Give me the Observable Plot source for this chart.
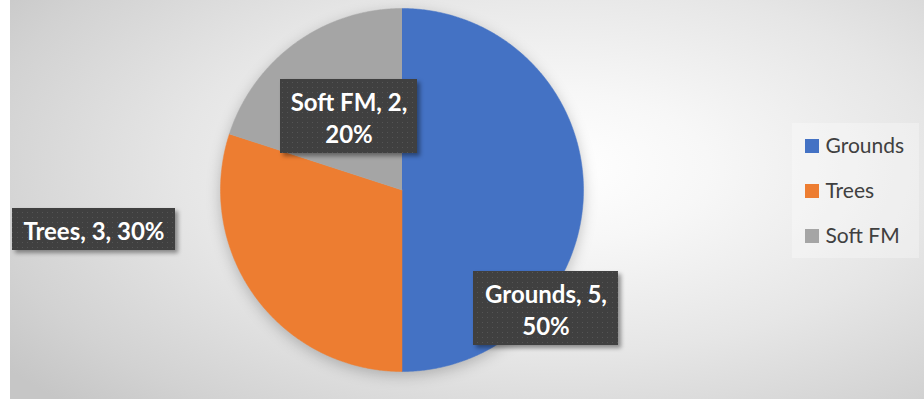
<!DOCTYPE html>
<html><head><meta charset="utf-8">
<script src="https://cdn.jsdelivr.net/npm/d3@7"></script>
<script src="https://cdn.jsdelivr.net/npm/@observablehq/plot@0.6"></script>
<style>
body{margin:0;background:#fff;}
#wrap{position:relative;width:924px;height:399px;overflow:hidden;}
#bg{position:absolute;left:10px;top:0;right:0;bottom:0;
 background:radial-gradient(ellipse 75% 85% at 60% 42%, #ffffff 0%, #f7f7f7 22%, #e6e6e6 55%, #d2d2d2 85%, #c6c6c6 100%);}
#wrap svg{position:absolute;left:0;top:0;}
</style></head><body>
<div id="wrap"><div id="bg"></div></div>
<script>
// ---- data ----
const categories = ["Grounds", "Trees", "Soft FM"];
const values = [5, 3, 2];
const colors = ["#4472C4", "#ED7D31", "#A5A5A5"];

// ---- layout (pixels) ----
const W = 924, H = 399;
const CX = 401.5, CY = 189.5, R = 181.5;
const ux = px => (px - CX) / R;
const uy = py => (CY - py) / R;
const labelLayout = [
  {cx: 545.5, cy: 308, w: 145, h: 74, wrap: true},
  {cx: 93.5, cy: 229, w: 163, h: 42, wrap: false},
  {cx: 348.5, cy: 116, w: 137, h: 74, wrap: true}
];
const legendLayout = {sqX1: 805, sqX2: 819, sq: 14, textX: 825, top: 146, step: 45, box: [792, 123, 919, 258]};

// ---- derived ----
const total = d3.sum(values);
const arcs = d3.pie().sort(null).value(d => d)(values);
const slicePts = [];
arcs.forEach((a, i) => {
  slicePts.push({name: categories[i], x: 0, y: 0});
  const n = Math.max(2, Math.ceil((a.endAngle - a.startAngle) / (Math.PI / 360)));
  for (let k = 0; k <= n; k++) {
    const t = a.startAngle + (a.endAngle - a.startAngle) * k / n;
    slicePts.push({name: categories[i], x: Math.sin(t), y: Math.cos(t)});
  }
});
const labels = categories.map((name, i) => {
  const L = labelLayout[i];
  const pct = Math.round(values[i] / total * 100);
  return {name, ...L, text: `${name}, ${values[i]},${L.wrap ? "\n" : " "}${pct}%`};
});
const legendItems = categories.map((name, i) => ({name, cy: legendLayout.top + i * legendLayout.step}));

const plot = Plot.plot({
  width: W, height: H,
  margin: 0,
  style: {background: "transparent", overflow: "visible"},
  x: {domain: [-1, 1], range: [CX - R, CX + R], axis: null},
  y: {domain: [-1, 1], range: [CY + R, CY - R], axis: null},
  color: {domain: categories, range: colors},
  marks: [
    // legend background
    Plot.rect([legendLayout.box], {x1: d => ux(d[0]), y1: d => uy(d[1]), x2: d => ux(d[2]), y2: d => uy(d[3]), fill: "#ffffff", fillOpacity: 0.3}),
    // pie
    Plot.line(slicePts, {x: "x", y: "y", z: "name", fill: "name", stroke: "name", strokeWidth: 0.5, imageFilter: "drop-shadow(0px 4px 7px rgba(0,0,0,0.22))"}),
    // label shadows
    Plot.rect(labels, {x1: d => ux(d.cx - d.w / 2 + 3), x2: d => ux(d.cx + d.w / 2 + 3), y1: d => uy(d.cy - d.h / 2 + 3), y2: d => uy(d.cy + d.h / 2 + 3), fill: "#000", fillOpacity: 0.4, imageFilter: "blur(2px)"}),
    // label boxes
    Plot.rect(labels, {x1: d => ux(d.cx - d.w / 2), x2: d => ux(d.cx + d.w / 2), y1: d => uy(d.cy - d.h / 2), y2: d => uy(d.cy + d.h / 2), fill: "url(#dots)"}),
    Plot.text(labels, {x: d => ux(d.cx), y: d => uy(d.cy), text: "text", fill: "#ffffff", fontSize: 24, fontWeight: "bold", fontFamily: "Lato", lineHeight: 1.33, textAnchor: "middle"}),
    // legend
    Plot.rect(legendItems, {x1: d => ux(legendLayout.sqX1), x2: d => ux(legendLayout.sqX2), y1: d => uy(d.cy - legendLayout.sq / 2), y2: d => uy(d.cy + legendLayout.sq / 2), fill: "name"}),
    Plot.text(legendItems, {x: d => ux(legendLayout.textX), y: d => uy(d.cy), text: "name", textAnchor: "start", fill: "#404040", fontSize: 21, fontFamily: "Lato"})
  ]
});

d3.select(plot).insert("defs", ":first-child").html(`
  <pattern id="dots" width="5" height="5" patternUnits="userSpaceOnUse">
    <rect width="5" height="5" fill="#404040"/>
    <rect x="2" y="2" width="1" height="1" fill="#555555"/>
  </pattern>`);
document.getElementById("wrap").appendChild(plot);
</script>
</body></html>
